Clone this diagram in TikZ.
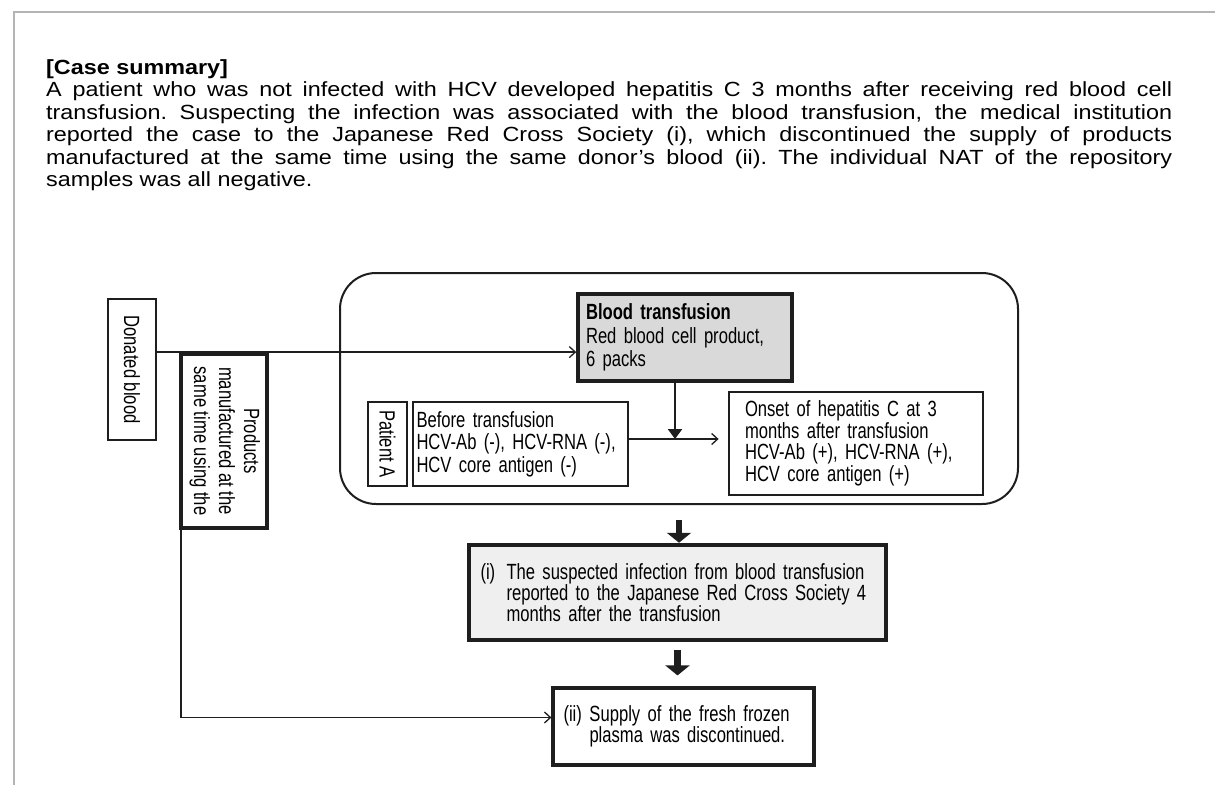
\documentclass[tikz,border=0pt]{standalone}
\usepackage{fontspec}
\usepackage{graphicx}
\setmainfont{Liberation Sans}
\newfontfamily\topfont{Liberation Sans}[FakeStretch=1.14]
\newfontfamily\diagfont{Liberation Sans}[FakeStretch=0.755]
\usetikzlibrary{arrows.meta}
\definecolor{ink}{HTML}{1E1E1E}
\definecolor{framegray}{HTML}{B4B4B4}
\definecolor{darkfill}{HTML}{D9D9D9}
\definecolor{lightfill}{HTML}{EFEFEF}
\hyphenpenalty=10000
\frenchspacing
\tikzset{
  box/.style={draw=ink, line width=2.8pt, inner sep=0pt, font=\diagfont\fontsize{22}{22.5}\selectfont},
  link/.style={draw=ink, line width=1.3pt, -{Straight Barb[length=6pt,width=11pt]}},
  droparrow/.style={draw=ink, line width=2.4pt, -{Triangle[length=10pt,width=14pt]}},
  fatarrow/.style={draw=ink, line width=6.5pt, -{Triangle[length=10pt,width=24pt]}}
}
\newcommand{\sidetext}[1]{\rotatebox{-90}{#1}}

\begin{document}
\begin{tikzpicture}[x=1pt,y=-1pt]
\useasboundingbox (0,0) rectangle (1215,785);
\draw[framegray, line width=1.6pt] (14,785) -- (14,12) -- (1215,12);

\node[anchor=north west, inner sep=0pt, text width=1126pt, align=justify,
  font=\topfont\fontsize{20.5}{22.5}\selectfont] (summary) at (46,59)
  {\textbf{[Case summary]}\\
  A patient who was not infected with HCV developed hepatitis C 3 months after receiving red blood cell\linebreak
  transfusion. Suspecting the infection was associated with the blood transfusion, the medical institution\linebreak
  reported the case to the Japanese Red Cross Society (i), which discontinued the supply of products\linebreak
  manufactured at the same time using the same donor’s blood (ii). The individual NAT of the repository\linebreak
  samples was all negative.};

\node[draw=ink, line width=2pt, rounded corners=36pt, minimum width=678pt, minimum height=231pt] (hospital) at (679,388.5) {};

\node[box, line width=2.6pt, minimum width=48pt, minimum height=141pt] (donated) at (132,369.5) {\sidetext{Donated blood}};
\node[box, line width=3.8pt, fill=white, minimum width=86pt, minimum height=174pt] (products) at (224,441)
  {\sidetext{\fontsize{22}{25}\selectfont\begin{tabular}{@{}c@{}}Products\\manufactured at the\\same time using the\end{tabular}}};

\node[box, line width=3.5pt, fill=darkfill, minimum width=214pt, minimum height=87pt, text width=198pt, align=left,
  font=\diagfont\fontsize{22}{23.5}\selectfont] (transfusion) at (685,337.5)
  {\textbf{Blood transfusion}\\Red blood cell product,\\6 packs};
\node[box, minimum width=39pt, minimum height=84pt] (patient) at (387.5,444) {\sidetext{Patient A}};
\node[box, minimum width=215pt, minimum height=84pt, text width=208pt, align=left] (before) at (520.5,444)
  {Before transfusion\\HCV-Ab (-), HCV-RNA (-),\\HCV core antigen (-)};
\node[box, minimum width=254pt, minimum height=103pt, text width=222pt, align=left,
  font=\diagfont\fontsize{22}{21.5}\selectfont] (onset) at (856,443.5)
  {Onset of hepatitis C at 3\\months after transfusion\\HCV-Ab (+), HCV-RNA (+),\\HCV core antigen (+)};

\node[box, line width=4.5pt, fill=lightfill, minimum width=417pt, minimum height=95pt, text width=394pt, align=left,
  font=\diagfont\fontsize{22}{21}\selectfont] (report) at (677.5,592.5)
  {\makebox[26pt][l]{(i)}The suspected infection from blood transfusion\\
   \hspace*{26pt}reported to the Japanese Red Cross Society 4\\
   \hspace*{26pt}months after the transfusion};
\node[box, line width=3.2pt, minimum width=261pt, minimum height=77pt, text width=240pt, align=left,
  font=\diagfont\fontsize{22}{21}\selectfont] (stop) at (683.5,726.5)
  {\makebox[26pt][l]{(ii)}Supply of the fresh frozen\\
   \hspace*{26pt}plasma was discontinued.};

\coordinate (join) at ([yshift=5pt]before.east);
\coordinate (drop) at ([xshift=-10pt]transfusion.south);
\draw[link] (donated.east |- products.north) -- (transfusion.west |- products.north);
\draw[link] ([xshift=2pt]products.south west) |- ([yshift=9pt]stop.west);
\draw[link, shorten >=9pt] (join) -- (join -| onset.west);
\draw[droparrow] (drop) -- (drop |- join);
\draw[fatarrow, shorten <=15pt] (hospital.south) -- (hospital.south |- report.north);
\draw[fatarrow, shorten <=8pt, shorten >=11pt] (report.south) -- (report.south |- stop.north);
\end{tikzpicture}
\end{document}
